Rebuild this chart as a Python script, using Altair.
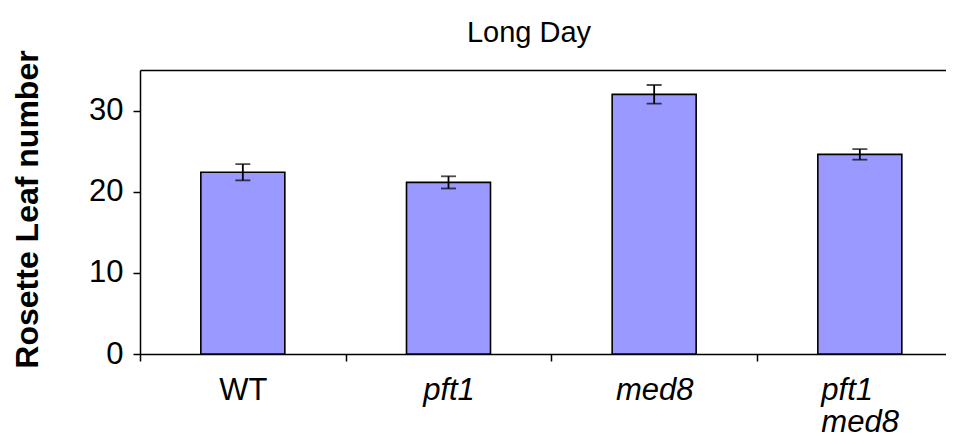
import altair as alt
import pandas as pd

# ---- data ----
categories = ["WT", "pft1", "med8", "pft1 med8"]
means = [22.4, 21.15, 32.0, 24.6]
errors = [1.0, 0.75, 1.15, 0.65]

FONT = "Liberation Sans"

df = pd.DataFrame({"genotype": categories, "mean": means, "err": errors})
df["pos"] = [i + 0.5 for i in range(len(categories))]
df["lo"] = df["mean"] - df["err"]
df["hi"] = df["mean"] + df["err"]

PLOT_W = 806
X_MAX = 3.919
x_scale = alt.Scale(domain=[0, X_MAX], nice=False, zero=False, padding=0)
y_scale = alt.Scale(domain=[0, 35], nice=False, padding=0)


def js_label(name):
    parts = name.split(" ")
    if len(parts) == 1:
        return "'%s'" % name
    return "[" + ",".join("'%s'" % p for p in parts) + "]"


label_expr = ""
for i, c in enumerate(categories):
    label_expr += f"datum.value == {i + 0.5} ? {js_label(c)} : "
label_expr += "''"

x_values = [v / 2 for v in range(2 * len(categories))]
last = len(categories) - 0.5

x_axis = alt.Axis(
    values=x_values,
    labelExpr=label_expr,
    tickColor=alt.expr("datum.value % 1 == 0 ? 'black' : 'transparent'"),
    tickSize=7,
    tickWidth=1.5,
    domainColor="black",
    domainWidth=1.5,
    labelFont=FONT,
    labelFontSize=31,
    labelColor="black",
    labelFontStyle=alt.expr("datum.value == 0.5 ? 'normal' : 'italic'"),
    labelAlign=alt.expr(f"datum.value == {last} ? 'left' : 'center'"),
    labelOffset=alt.expr(f"datum.value == {last} ? -39 : 0"),
    labelBaseline="alphabetic",
    labelPadding=38,
    labelLineHeight=32,
    labelFlush=False,
    labelOverlap=False,
    labelBound=False,
    grid=False,
    title=None,
)

y_axis = alt.Axis(
    values=[0, 10, 20, 30, 35],
    labelExpr="datum.value == 35 ? '' : datum.label",
    tickColor=alt.expr("datum.value == 35 ? 'transparent' : 'black'"),
    grid=True,
    gridColor=alt.expr("datum.value == 35 ? 'black' : 'transparent'"),
    gridWidth=1.5,
    tickSize=7,
    tickWidth=1.5,
    domainColor="black",
    domainWidth=1.5,
    labelFont=FONT,
    labelFontSize=31,
    labelColor="black",
    labelPadding=10,
    labelFlush=False,
    labelOverlap=False,
    title="Rosette Leaf number",
    titleFont=FONT,
    titleFontSize=32,
    titleFontWeight="bold",
    titleColor="black",
    titleX=-103,
    titleY=139,
    titleAlign="center",
    titleBaseline="alphabetic",
    titleAngle=270,
)

base = alt.Chart(df)
X = alt.X("pos:Q", scale=x_scale, axis=x_axis)

bars = base.mark_bar(
    size=84, fill="#9999FF", stroke="black", strokeWidth=1.6, orient="vertical"
).encode(
    x=X,
    y=alt.Y("mean:Q", scale=y_scale, axis=y_axis),
    y2=alt.datum(0),
)

rules = base.mark_rule(color="black", strokeWidth=1.8).encode(
    x=X,
    y=alt.Y("lo:Q", scale=y_scale, axis=y_axis),
    y2="hi:Q",
)

caps_lo = base.mark_tick(orient="horizontal", size=15, thickness=1.8, color="black").encode(
    x=X,
    y=alt.Y("lo:Q", scale=y_scale, axis=y_axis),
)
caps_hi = base.mark_tick(orient="horizontal", size=15, thickness=1.8, color="black").encode(
    x=X,
    y=alt.Y("hi:Q", scale=y_scale, axis=y_axis),
)

chart = (
    alt.layer(bars, rules, caps_lo, caps_hi)
    .properties(
        width=PLOT_W,
        height=284,
        title=alt.TitleParams(
            text="Long Day",
            font=FONT,
            fontSize=29,
            fontWeight="normal",
            color="black",
            anchor="middle",
            frame="group",
            dx=-14,
            dy=34,
            baseline="alphabetic",
            offset=13,
        ),
        padding={"left": 132, "top": 62, "right": 0, "bottom": 83},
        autosize=alt.AutoSizeParams(type="none"),
    )
    .configure_view(strokeWidth=0, stroke="transparent")
    .configure(background="white", font=FONT)
)

chart.save("out.html", embed_options={"renderer": "svg", "actions": False})
